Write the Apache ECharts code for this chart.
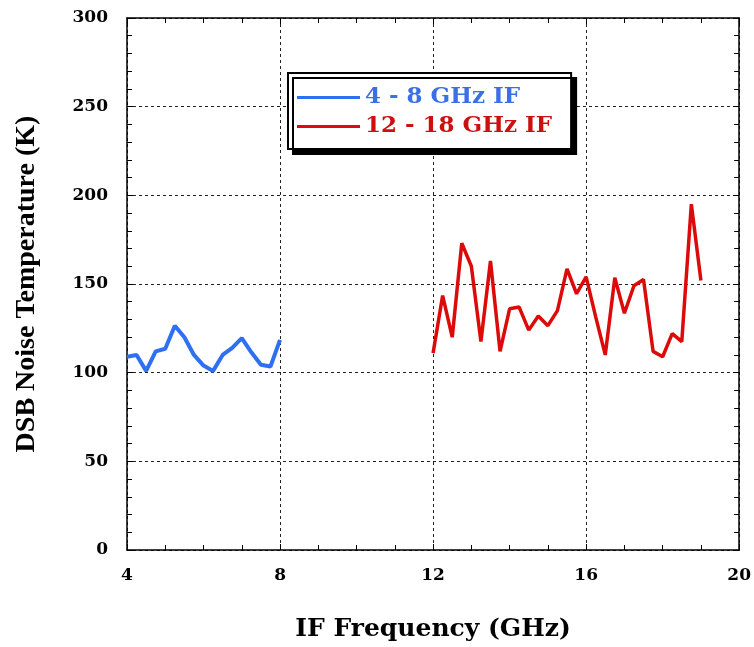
<!DOCTYPE html>
<html>
<head>
<meta charset="utf-8">
<script src="https://cdn.jsdelivr.net/npm/echarts@6/dist/echarts.min.js"></script>
<style>html,body{margin:0;padding:0;background:#fff;}#c{width:754px;height:647px;}</style>
</head>
<body>
<div id="c"></div>
<script>
var blueFreq = [4, 4.25, 4.5, 4.75, 5, 5.25, 5.5, 5.75, 6, 6.25, 6.5, 6.75, 7, 7.25, 7.5, 7.75, 8];
var blueTemp = [109, 110, 101, 112, 113.5, 126.5, 120, 110, 104, 101, 110, 114, 119.5, 111.5, 104.5, 103.5, 118.5];
var redFreq = [12, 12.25, 12.5, 12.75, 13, 13.25, 13.5, 13.75, 14, 14.25, 14.5, 14.75, 15, 15.25, 15.5, 15.75, 16,
               16.25, 16.5, 16.75, 17, 17.25, 17.5, 17.75, 18, 18.25, 18.5, 18.75, 19];
var redTemp = [111, 143.5, 120, 173, 160, 117.5, 163, 112, 136, 137, 124, 132, 126.5, 135, 158.5, 144.5, 154,
               131.5, 110, 153.5, 133.5, 149, 152.5, 112, 109, 122, 117.5, 195, 152];
var xTicks = [4, 8, 12, 16, 20];
var yTicks = [0, 50, 100, 150, 200, 250, 300];
var seriesNames = ['4 - 8 GHz IF', '12 - 18 GHz IF'];

function pairs(xs, ys) { return xs.map(function (x, i) { return [x, ys[i]]; }); }

var wideFont = 'DejaVu Serif, serif';
var timesFont = 'Liberation Serif, Times New Roman, serif';
var gridLine = { show: true, lineStyle: { color: '#222', type: [3, 3], width: 1 } };
var chart = echarts.init(document.getElementById('c'));
chart.setOption({
  animation: false,
  backgroundColor: '#fff',
  grid: { left: 127, right: 11, top: 18, bottom: 83, containLabel: false },
  legend: {
    orient: 'vertical', left: 288, top: 73,
    backgroundColor: '#fff', borderColor: '#000', borderWidth: 2,
    shadowColor: '#000', shadowBlur: 0, shadowOffsetX: 5, shadowOffsetY: 5,
    padding: [12, 19, 10, 9], itemGap: 4, itemWidth: 63, itemHeight: 3,
    icon: 'rect',
    textStyle: { fontFamily: wideFont, fontWeight: 'bold', fontSize: 23, lineHeight: 25, padding: [0, 0, 0, 0] },
    data: [
      { name: seriesNames[0], textStyle: { color: '#3b6fe6' } },
      { name: seriesNames[1], textStyle: { color: '#cc1010' } }
    ]
  },
  xAxis: [{
    type: 'value', min: 4, max: 20, interval: 4, position: 'bottom',
    name: 'IF Frequency (GHz)', nameLocation: 'middle', nameGap: 67,
    nameTextStyle: { fontFamily: wideFont, fontWeight: 'bold', fontSize: 25, color: '#000' },
    axisLine: { show: true, onZero: false, lineStyle: { color: '#000', width: 1.5 } },
    axisTick: { show: true, inside: true, length: 6, lineStyle: { color: '#000' } },
    minorTick: { show: true, splitNumber: 4, length: 5, lineStyle: { color: '#000' } },
    axisLabel: { fontFamily: wideFont, fontWeight: 'bold', fontSize: 17, color: '#000', margin: 17,
      customValues: xTicks },
    splitLine: gridLine
  }, {
    type: 'value', min: 4, max: 20, interval: 4, position: 'top',
    axisLine: { show: true, onZero: false, lineStyle: { color: '#000', width: 1.5 } },
    axisTick: { show: true, inside: true, length: 6, lineStyle: { color: '#000' } },
    minorTick: { show: true, splitNumber: 4, length: 5, lineStyle: { color: '#000' } },
    axisLabel: { show: false }, splitLine: { show: false }
  }],
  yAxis: [{
    type: 'value', min: 0, max: 300, interval: 50, position: 'left',
    name: 'DSB Noise Temperature (K)', nameLocation: 'middle', nameGap: 86,
    nameTextStyle: { fontFamily: timesFont, fontWeight: 'bold', fontSize: 28, color: '#000' },
    axisLine: { show: true, onZero: false, lineStyle: { color: '#000', width: 1.5 } },
    axisTick: { show: true, inside: true, length: 6, lineStyle: { color: '#000' } },
    minorTick: { show: true, splitNumber: 5, length: 5, lineStyle: { color: '#000' } },
    axisLabel: { fontFamily: wideFont, fontWeight: 'bold', fontSize: 17, color: '#000', margin: 19,
      customValues: yTicks },
    splitLine: gridLine
  }, {
    type: 'value', min: 0, max: 300, interval: 50, position: 'right',
    axisLine: { show: true, onZero: false, lineStyle: { color: '#000', width: 1.5 } },
    axisTick: { show: true, inside: true, length: 6, lineStyle: { color: '#000' } },
    minorTick: { show: true, splitNumber: 5, length: 5, lineStyle: { color: '#000' } },
    axisLabel: { show: false }, splitLine: { show: false }
  }],
  series: [{
    name: seriesNames[0], type: 'line', showSymbol: false, symbol: 'none',
    data: pairs(blueFreq, blueTemp),
    itemStyle: { color: '#2f6ff2' },
    lineStyle: { color: '#2f6ff2', width: 4 }
  }, {
    name: seriesNames[1], type: 'line', showSymbol: false, symbol: 'none',
    data: pairs(redFreq, redTemp),
    itemStyle: { color: '#dd0a0a' },
    lineStyle: { color: '#dd0a0a', width: 3.5 }
  }]
});
</script>
</body>
</html>
